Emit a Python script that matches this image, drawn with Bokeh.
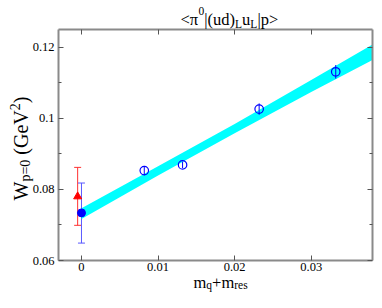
import math
from bokeh.plotting import figure
from bokeh.models import LinearAxis, FixedTicker, Label, Whisker, ColumnDataSource, Range1d, TeeHead
from bokeh.embed import file_html
from bokeh.resources import INLINE

# ---------------- data ----------------
x_ticks = [0.0, 0.01, 0.02, 0.03]
x_tick_labels = ["0", "0.01", "0.02", "0.03"]
y_ticks = [0.06, 0.08, 0.1, 0.12]
y_tick_labels = ["0.06", "0.08", "0.1", "0.12"]
y_minor_ticks = [0.07, 0.09, 0.11]
x_lim = (-0.003, 0.038)
y_lim = (0.06, 0.125)

# lattice points (open circles)
mq = [0.0082, 0.0132, 0.0232, 0.0332]
w_val = [0.0853, 0.0869, 0.1026, 0.1131]
w_err = [0.0013, 0.0009, 0.0016, 0.0019]

# linear fit band
fit_x = [0.0, 0.01, 0.02, 0.03, 0.038]
fit_lower = [0.0717, 0.0839, 0.0958, 0.1074, 0.1164]
fit_upper = [0.0747, 0.0865, 0.0984, 0.1108, 0.1208]

# chiral limit (filled circle)
chiral_x = [0.0]
chiral_w = [0.0734]
chiral_lo = [0.0649]
chiral_hi = [0.0818]

# other result (red triangle)
other_x = [-0.0005]
other_w = [0.0780]
other_lo = [0.0699]
other_hi = [0.0862]

FONT = "'Liberation Serif', 'Times New Roman', 'DejaVu Serif', serif"
AXIS_GRAY = "#8a8a8a"
TICK_GRAY = "#555555"

# ---------------- layout (pixels of the canvas) ----------------
W, H = 374, 292
BOX_L, BOX_R, BOX_T, BOX_B = 58, 372, 29, 260   # plot box inside the canvas
kx = (x_lim[1] - x_lim[0]) / (BOX_R - BOX_L)
ky = (y_lim[1] - y_lim[0]) / (BOX_B - BOX_T)
x_range = Range1d(x_lim[0] - BOX_L * kx, x_lim[1] + (W - BOX_R) * kx)
y_range = Range1d(y_lim[0] - (H - BOX_B) * ky, y_lim[1] + BOX_T * ky)

p = figure(width=W, height=H, output_backend="svg", toolbar_location=None,
           x_range=x_range, y_range=y_range,
           min_border_left=0, min_border_right=0, min_border_top=0, min_border_bottom=0)
p.title.visible = False
p.grid.visible = False
p.outline_line_color = None
p.background_fill_color = "white"
p.border_fill_color = "white"


def style_axis(ax, labels=True):
    ax.axis_line_color = AXIS_GRAY
    ax.axis_line_width = 2
    ax.major_tick_line_color = TICK_GRAY
    ax.major_tick_line_width = 1
    ax.minor_tick_line_color = TICK_GRAY
    ax.minor_tick_line_width = 1
    ax.major_tick_in = 5
    ax.major_tick_out = 0
    ax.minor_tick_in = 3
    ax.minor_tick_out = 0
    ax.major_label_text_font = FONT
    ax.major_label_text_font_size = "12.5px"
    if labels:
        ax.major_label_text_color = "black"
        ax.major_label_standoff = 4
    else:
        ax.major_label_text_color = None   # mirror axis: ticks only, no labels
        ax.major_label_standoff = 0


bottom_ax = p.xaxis[0]
left_ax = p.yaxis[0]
bottom_ax.ticker = FixedTicker(ticks=x_ticks, minor_ticks=[])
bottom_ax.major_label_overrides = dict(zip(x_ticks, x_tick_labels))
bottom_ax.fixed_location = y_lim[0]
bottom_ax.bounds = x_lim
left_ax.ticker = FixedTicker(ticks=y_ticks, minor_ticks=y_minor_ticks)
left_ax.major_label_overrides = dict(zip(y_ticks, y_tick_labels))
left_ax.fixed_location = x_lim[0]
left_ax.bounds = y_lim
style_axis(bottom_ax)
style_axis(left_ax)
bottom_ax.major_label_standoff = 2

top_ax = LinearAxis(ticker=FixedTicker(ticks=x_ticks, minor_ticks=[]),
                    fixed_location=y_lim[1], bounds=x_lim)
right_ax = LinearAxis(ticker=FixedTicker(ticks=y_ticks, minor_ticks=y_minor_ticks),
                      fixed_location=x_lim[1], bounds=y_lim)
style_axis(top_ax, labels=False)
style_axis(right_ax, labels=False)
p.add_layout(top_ax, "above")
p.add_layout(right_ax, "right")

# fit band
band = ColumnDataSource(dict(x=fit_x, lo=fit_lower, hi=fit_upper))
p.varea(x="x", y1="lo", y2="hi", source=band, fill_color="#00ffff", fill_alpha=1.0)

# red triangle with error bar
osrc = ColumnDataSource(dict(x=other_x, y=other_w, lo=other_lo, hi=other_hi))
p.add_layout(Whisker(source=osrc, base="x", lower="lo", upper="hi", dimension="height",
                     line_color="#ff3030", line_width=1,
                     upper_head=TeeHead(size=7, line_color="#ff3030", line_width=1),
                     lower_head=TeeHead(size=7, line_color="#ff3030", line_width=1)))
p.scatter("x", "y", source=osrc, marker="triangle", size=8, fill_color="red", line_color="red")

# chiral-limit point
csrc = ColumnDataSource(dict(x=chiral_x, y=chiral_w, lo=chiral_lo, hi=chiral_hi))
p.add_layout(Whisker(source=csrc, base="x", lower="lo", upper="hi", dimension="height",
                     line_color="#5a5aff", line_width=1,
                     upper_head=TeeHead(size=7, line_color="#5a5aff", line_width=1),
                     lower_head=TeeHead(size=7, line_color="#5a5aff", line_width=1)))
p.scatter("x", "y", source=csrc, marker="circle", size=8, fill_color="blue", line_color="blue")

# lattice points
lo = [v - e for v, e in zip(w_val, w_err)]
hi = [v + e for v, e in zip(w_val, w_err)]
lsrc = ColumnDataSource(dict(x=mq, y=w_val, lo=lo, hi=hi))
p.segment(x0="x", y0="lo", x1="x", y1="hi", source=lsrc, line_color="blue", line_width=1)
p.scatter("x", "y", source=lsrc, marker="circle", size=8.5, fill_color=None,
          line_color="blue", line_width=1.2)

# ---------- rich text built from pieces (canvas px, y measured from top) ----------
WID = {'<': 0.564, '>': 0.564, '|': 0.2, '(': 0.333, ')': 0.333, 'u': 0.5, 'd': 0.5,
       'p': 0.5, 'L': 0.611, '0': 0.5, 'π': 0.53, 'm': 0.778, '+': 0.564, 'q': 0.5,
       'r': 0.333, 'e': 0.444, 's': 0.389, 'W': 0.944, '=': 0.564, ' ': 0.25,
       'G': 0.722, 'V': 0.722, '2': 0.5}


def place(pieces, cx, cy, angle=0.0):
    # cx, cy: baseline start in canvas px (cy from top); converted to frame screen units
    x0, y0 = cx, H - cy
    ax, ay = math.cos(angle), math.sin(angle)
    ux, uy = -math.sin(angle), math.cos(angle)
    adv = 0.0
    for txt, size, dy in pieces:
        if txt.strip():
            x = x0 + ax * adv + ux * dy
            y = y0 + ay * adv + uy * dy
            p.add_layout(Label(x=x, y=y, x_units="screen", y_units="screen", text=txt,
                               angle=angle, text_font=FONT, text_font_size=f"{size}px",
                               text_color="black", text_align="left",
                               text_baseline="alphabetic"))
        adv += sum(WID.get(c, 0.5) for c in txt) * size


S, s = 16.5, 11.5
place([("<π", S, 0), ("0", s, 8.5), ("|(ud)", S, 0), ("L", s, -4.5), ("u", S, 0),
       ("L", s, -4.5), ("|p>", S, 0)], 180, 19)

S, s = 16.5, 11.5
place([("m", S, 0), ("q", s, -3), ("+m", S, 0), ("res", s, -3)], 193, 281.5)

S, s = 20, 14
place([("W", S, 0), ("p=0", s, -5), (" ", S, 0), ("(GeV", S, 0), ("2", s, 6), (")", S, 0)],
      20, 200, angle=math.pi / 2)

open("out.html", "w").write(file_html(p, INLINE))
